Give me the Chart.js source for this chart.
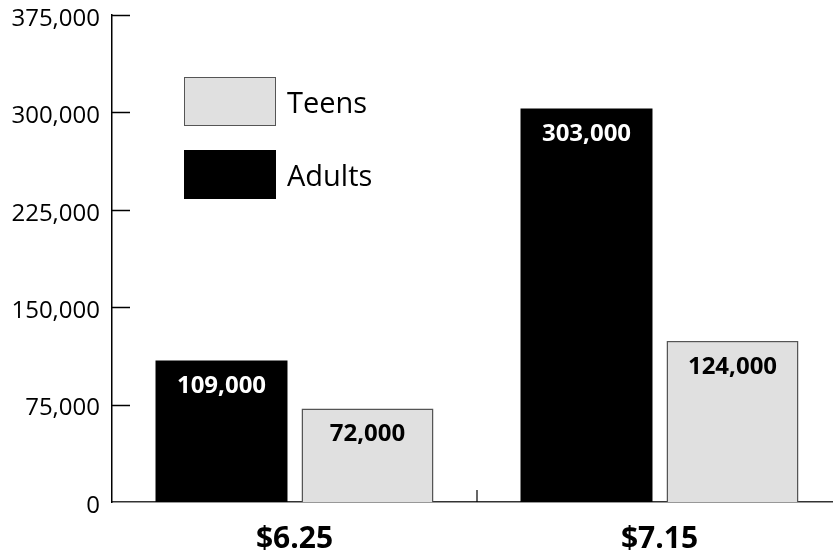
<!DOCTYPE html>
<html lang="en">
<head>
<meta charset="UTF-8">
<title>Teens and Adults by wage</title>
<style>
  body { margin: 0; background: #fff; font-family: "Open Sans", sans-serif; overflow: hidden; }
  #wrap { position: relative; width: 833px; height: 554px; overflow: hidden; }
  .legend-item { position: absolute; left: 184px; display: flex; align-items: center; }
  .swatch { width: 92px; height: 49px; box-sizing: border-box; margin-right: 11px; }
  .legend-item span { font-size: 29px; color: #000; line-height: 1; }
</style>
<script src="https://cdn.jsdelivr.net/npm/chart.js"></script>
</head>
<body>
<div id="wrap">
  <!-- canvas a bit wider than the window: the x axis runs off the right edge -->
  <canvas id="chart" width="842" height="554"></canvas>
  <div id="legend"></div>
</div>
<script>
const wages = ['$6.25', '$7.15'];
const adults = [109000, 303000];
const teens = [72000, 124000];
const yMin = 0, yMax = 375000, yStep = 75000;

const teenFill = '#e0e0e0';
const teenEdge = '#555555';
const adultFill = '#000000';

function fmt(v) {
  return Number(v).toLocaleString('en-US');
}

// inward tick marks + value labels inside the bars
const extras = {
  id: 'extras',
  afterDatasetsDraw(chart) {
    const ctx = chart.ctx;
    const xs = chart.scales.x, ys = chart.scales.y;
    ctx.save();
    ctx.strokeStyle = '#000';
    ctx.lineWidth = 1.5;
    ys.ticks.forEach(t => {
      if (t.value === 0) return;
      const py = Math.round(ys.getPixelForValue(t.value)) + 0.5;
      ctx.beginPath();
      ctx.moveTo(xs.left, py);
      ctx.lineTo(xs.left + 18, py);
      ctx.stroke();
    });
    for (let i = 0; i < wages.length - 1; i++) {
      const px = (xs.getPixelForValue(i) + xs.getPixelForValue(i + 1)) / 2;
      ctx.lineWidth = 1.2;
      ctx.beginPath();
      ctx.moveTo(px, ys.bottom);
      ctx.lineTo(px, ys.bottom - 12);
      ctx.stroke();
    }

    ctx.font = 'bold 24px "Open Sans", sans-serif';
    ctx.textAlign = 'center';
    ctx.textBaseline = 'middle';
    chart.data.datasets.forEach((ds, di) => {
      const meta = chart.getDatasetMeta(di);
      ctx.fillStyle = ds.labelColor;
      meta.data.forEach((bar, i) => {
        ctx.fillText(fmt(ds.data[i]), bar.x, bar.y + 26);
      });
    });
    ctx.restore();
  }
};

const chart = new Chart(document.getElementById('chart'), {
  type: 'bar',
  data: {
    labels: wages,
    datasets: [
      {
        label: 'Adults',
        data: adults,
        backgroundColor: adultFill,
        borderColor: adultFill,
        borderWidth: 0,
        labelColor: '#fff'
      },
      {
        label: 'Teens',
        data: teens,
        backgroundColor: teenFill,
        borderColor: teenEdge,
        borderWidth: 1.5,
        labelColor: '#000'
      }
    ]
  },
  options: {
    responsive: false,
    animation: false,
    categoryPercentage: 0.8,
    barPercentage: 0.904,
    layout: { padding: { top: 15, right: 0, left: 0, bottom: 0 } },
    plugins: {
      legend: { display: false },
      tooltip: { enabled: false }
    },
    scales: {
      x: {
        grid: { display: false },
        border: { display: true, color: '#333', width: 1.5 },
        ticks: {
          color: '#000',
          padding: 11,
          font: { family: '"Open Sans", sans-serif', size: 30, weight: 'bold' }
        },
        afterFit(scale) { scale.height = 52; scale.paddingLeft = 0; scale.paddingRight = 0; }
      },
      y: {
        min: yMin,
        max: yMax,
        grid: { display: false },
        border: { display: true, color: '#000', width: 1.5 },
        ticks: {
          stepSize: yStep,
          color: '#000',
          padding: 4,
          labelOffset: 4,
          font: { family: '"Open Sans", sans-serif', size: 24 },
          callback: v => fmt(v)
        },
        afterFit(scale) { scale.width = 112; scale.paddingTop = 0; scale.paddingBottom = 0; }
      }
    }
  },
  plugins: [extras]
});

// legend: Teens above Adults, as in the picture
const legendOrder = [1, 0];
const legendTops = [77, 150];
const legend = document.getElementById('legend');
legendOrder.forEach((di, k) => {
  const ds = chart.data.datasets[di];
  const item = document.createElement('div');
  item.className = 'legend-item';
  item.style.top = legendTops[k] + 'px';
  const sw = document.createElement('div');
  sw.className = 'swatch';
  sw.style.background = ds.backgroundColor;
  if (ds.borderWidth) sw.style.border = '1.5px solid ' + ds.borderColor;
  const txt = document.createElement('span');
  txt.textContent = ds.label;
  item.appendChild(sw);
  item.appendChild(txt);
  legend.appendChild(item);
});
</script>
</body>
</html>
